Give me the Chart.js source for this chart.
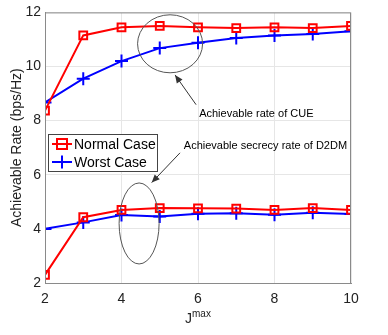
<!DOCTYPE html>
<html><head><meta charset="utf-8">
<script src="https://cdn.jsdelivr.net/npm/chart.js@4/dist/chart.umd.min.js"></script>
<style>html,body{margin:0;padding:0;background:#fff}#wrap{width:388px;height:335px}</style>
</head><body><div id="wrap"><canvas id="c" width="388" height="335"></canvas></div>
<script>
const jmax = [2,3,4,5,6,7,8,9,10];
const normalCUE = [8.37,11.15,11.45,11.5,11.45,11.42,11.45,11.42,11.5];
const worstCUE  = [8.67,9.55,10.2,10.68,10.88,11.05,11.15,11.2,11.3];
const normalD2DM = [2.3,4.43,4.7,4.77,4.76,4.75,4.7,4.77,4.7];
const worstD2DM  = [4.0,4.24,4.51,4.46,4.56,4.58,4.52,4.6,4.55];
const seriesNames = ["Normal Case","Worst Case"];
const xTicks = [2,4,6,8,10];
const yTicks = [2,4,6,8,10,12];
const annoCUE = "Achievable rate of CUE";
const annoD2DM = "Achievable secrecy rate of D2DM";

const RED = "#ff0000", BLUE = "#0000ff";
const FONT = "'Liberation Sans', Arial, sans-serif";
const pts = (ys) => jmax.map((x,i)=>({x, y: ys[i]}));

function ds(label, ys, color, style){
  return {label, data: pts(ys), borderColor: color, backgroundColor: 'rgba(0,0,0,0)',
    borderWidth: 2, pointStyle: style, pointRadius: style==='rect'?5.5:6.5, pointBorderWidth: 2,
    pointBorderColor: color, pointBackgroundColor: 'rgba(0,0,0,0)', tension: 0, fill: false};
}

const overlay = {
  id: 'overlay',
  afterDraw(chart){
    const {ctx, chartArea: a, scales: {x, y}} = chart;
    ctx.save();
    ctx.strokeStyle = '#8a8a8a'; ctx.lineWidth = 1;
    ctx.strokeRect(a.left+0.5, a.top+0.5, a.right-a.left-1, a.bottom-a.top);
    ctx.strokeStyle = '#555'; ctx.lineWidth = 1;
    ctx.beginPath();
    ctx.ellipse(x.getPixelForValue(5.27), y.getPixelForValue(10.84), 32.5, 29, 0, 0, Math.PI*2);
    ctx.stroke();
    ctx.beginPath();
    ctx.ellipse(x.getPixelForValue(4.46), y.getPixelForValue(4.2), 20, 40.5, 0, 0, Math.PI*2);
    ctx.stroke();
    function arrow(x1,y1,x2,y2){
      ctx.strokeStyle = '#333'; ctx.fillStyle = '#333'; ctx.lineWidth = 1;
      ctx.beginPath(); ctx.moveTo(x1,y1); ctx.lineTo(x2,y2); ctx.stroke();
      const ang = Math.atan2(y2-y1, x2-x1), L = 8, W = 3.5;
      ctx.beginPath(); ctx.moveTo(x2,y2);
      ctx.lineTo(x2 - L*Math.cos(ang) + W*Math.sin(ang), y2 - L*Math.sin(ang) - W*Math.cos(ang));
      ctx.lineTo(x2 - L*Math.cos(ang) - W*Math.sin(ang), y2 - L*Math.sin(ang) + W*Math.cos(ang));
      ctx.closePath(); ctx.fill();
    }
    arrow(x.getPixelForValue(5.95), y.getPixelForValue(8.59), x.getPixelForValue(5.40), y.getPixelForValue(9.69));
    arrow(x.getPixelForValue(5.53), y.getPixelForValue(6.81), x.getPixelForValue(4.79), y.getPixelForValue(5.71));
    ctx.fillStyle = '#000'; ctx.font = '11px ' + FONT; ctx.textBaseline = 'middle'; ctx.textAlign = 'left';
    ctx.fillText(annoCUE, x.getPixelForValue(6.03), y.getPixelForValue(8.26));
    ctx.fillText(annoD2DM, x.getPixelForValue(5.63), y.getPixelForValue(7.05));
    // legend
    const lx = a.left + 3, ly = Math.round(y.getPixelForValue(7.49)), lw = 109, lh = 37;
    ctx.fillStyle = '#fff'; ctx.fillRect(lx, ly, lw, lh);
    ctx.strokeStyle = '#444'; ctx.lineWidth = 1; ctx.strokeRect(lx+0.5, ly+0.5, lw, lh);
    const items = [[seriesNames[0], RED, 'rect'], [seriesNames[1], BLUE, 'cross']];
    items.forEach((it, i) => {
      const cy = ly + 10 + i*18;
      ctx.strokeStyle = it[1]; ctx.lineWidth = 2;
      ctx.beginPath(); ctx.moveTo(lx+4, cy); ctx.lineTo(lx+24, cy); ctx.stroke();
      const mx = lx + 14;
      if (it[2] === 'rect') { ctx.strokeRect(mx-5, cy-5, 10, 10); }
      else { ctx.beginPath(); ctx.moveTo(mx-6.5, cy); ctx.lineTo(mx+6.5, cy); ctx.moveTo(mx, cy-6.5); ctx.lineTo(mx, cy+6.5); ctx.stroke(); }
      ctx.fillStyle = '#000'; ctx.font = '14px ' + FONT; ctx.textAlign = 'left'; ctx.textBaseline = 'middle';
      ctx.fillText(it[0], lx + 26, cy + 1);
    });
    // x title J^max
    ctx.fillStyle = '#222'; ctx.textBaseline = 'alphabetic';
    ctx.font = '14px ' + FONT; ctx.textAlign = 'left';
    ctx.fillText('J', 185, 323);
    ctx.font = '10px ' + FONT;
    ctx.fillText('max', 192, 317);
    ctx.restore();
  }
};

new Chart(document.getElementById('c'), {
  type: 'line',
  data: { datasets: [
    ds(seriesNames[0], normalCUE, RED, 'rect'),
    ds(seriesNames[1], worstCUE, BLUE, 'cross'),
    ds(seriesNames[0], normalD2DM, RED, 'rect'),
    ds(seriesNames[1], worstD2DM, BLUE, 'cross')
  ]},
  options: {
    responsive: false, animation: false, devicePixelRatio: 1,
    layout: { padding: { left: 9, top: 10, right: 37, bottom: 0 } },
    plugins: { legend: { display: false }, tooltip: { enabled: false } },
    scales: {
      x: { type: 'linear', min: 2, max: 10,
        afterBuildTicks: s => { s.ticks = xTicks.map(v => ({value: v})); },
        afterFit: s => { s.height = 52; },
        grid: { color: '#e6e6e6', drawTicks: false },
        border: { color: '#8a8a8a' },
        ticks: { padding: 8, color: '#222', font: { size: 14, family: FONT } } },
      y: { min: 2, max: 12,
        afterBuildTicks: s => { s.ticks = yTicks.map(v => ({value: v})); },
        afterFit: s => { s.width = 36; },
        grid: { color: '#e6e6e6', drawTicks: false },
        border: { color: '#8a8a8a' },
        title: { display: true, text: 'Achievable Rate (bps/Hz)', color: '#222', padding: 0, font: { size: 14, family: FONT } },
        ticks: { padding: 4, color: '#222', font: { size: 14, family: FONT } } }
    }
  },
  plugins: [overlay]
});
</script></body></html>
